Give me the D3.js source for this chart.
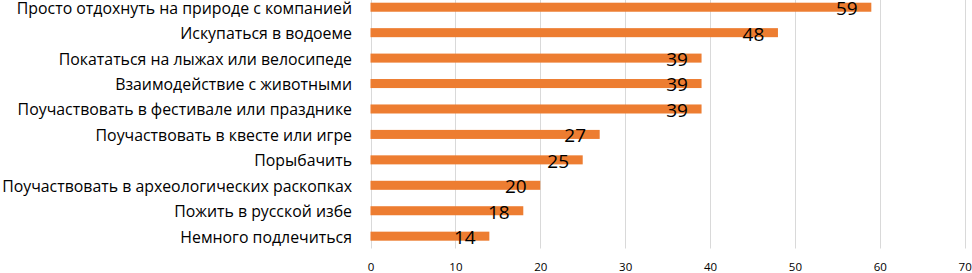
<!DOCTYPE html>
<html>
<head>
<meta charset="utf-8">
<script src="https://cdn.jsdelivr.net/npm/d3@7"></script>
<style>
  html, body { margin: 0; padding: 0; background: #fff; }
  svg { display: block; }
</style>
</head>
<body>
<svg id="chart" width="972" height="273"></svg>
<script>
const categories = [
  "Просто отдохнуть на природе с компанией",
  "Искупаться в водоеме",
  "Покататься на лыжах или велосипеде",
  "Взаимодействие с животными",
  "Поучаствовать в фестивале или празднике",
  "Поучаствовать в квесте или игре",
  "Порыбачить",
  "Поучаствовать в археологических раскопках",
  "Пожить в русской избе",
  "Немного подлечиться"
];
const values = [59, 48, 39, 39, 39, 27, 25, 20, 18, 14];
const tickValues = [0, 10, 20, 30, 40, 50, 60, 70];

const svg = d3.select("#chart");
const fontFamily = "'Open Sans', 'DejaVu Sans', sans-serif";

const x = d3.scaleLinear().domain([0, 70]).range([370.5, 964.7]);
const y = d3.scaleBand().domain(categories).range([-5.7, 248.7])
  .paddingInner(0.645).paddingOuter(0.3225);

// gridlines
svg.append("g").selectAll("line").data(tickValues).join("line")
  .attr("x1", d => Math.round(x(d)) + 0.5).attr("x2", d => Math.round(x(d)) + 0.5)
  .attr("y1", 0).attr("y2", 248.5)
  .attr("stroke", "#d9d9d9").attr("stroke-width", 1);

// x axis tick labels
const xAxis = d3.axisBottom(x).tickValues(tickValues).tickSize(0).tickPadding(0);
const gx = svg.append("g").attr("transform", "translate(0,260)").call(xAxis);
gx.select(".domain").remove();
gx.selectAll("text").attr("font-family", fontFamily).attr("font-size", 11.5)
  .attr("fill", "#000").attr("dy", "0.71em").attr("y", 3);

// bars
svg.append("g").selectAll("rect").data(values).join("rect")
  .attr("x", x(0))
  .attr("y", (d, i) => y(categories[i]) + 0.2)
  .attr("width", d => x(d) - x(0))
  .attr("height", y.bandwidth())
  .attr("fill", "#ED7D31");

// category labels (y axis)
const yAxis = d3.axisLeft(y).tickSize(0).tickPadding(0);
const gy = svg.append("g").attr("transform", "translate(352,0)").call(yAxis);
gy.select(".domain").remove();
const labels = gy.selectAll("text").attr("font-family", fontFamily).attr("font-size", 14)
  .attr("fill", "#000").attr("dy", "0.42em");
// fit font size: first label ~342px wide, no label wider than 351px
const widths = labels.nodes().map(n => n.getComputedTextLength());
const fs = Math.min(14 * 342 / widths[0], 14 * 350 / d3.max(widths));
labels.attr("font-size", fs);

// value labels
svg.append("g").selectAll("text").data(values).join("text")
  .attr("x", d => x(d) - 24.5)
  .attr("y", (d, i) => y(categories[i]) + y.bandwidth() / 2 + 1.2)
  .attr("dy", "0.36em")
  .attr("text-anchor", "middle")
  .attr("font-family", fontFamily)
  .attr("font-size", 19)
  .attr("fill", "#000")
  .text(d => d);
</script>
</body>
</html>
